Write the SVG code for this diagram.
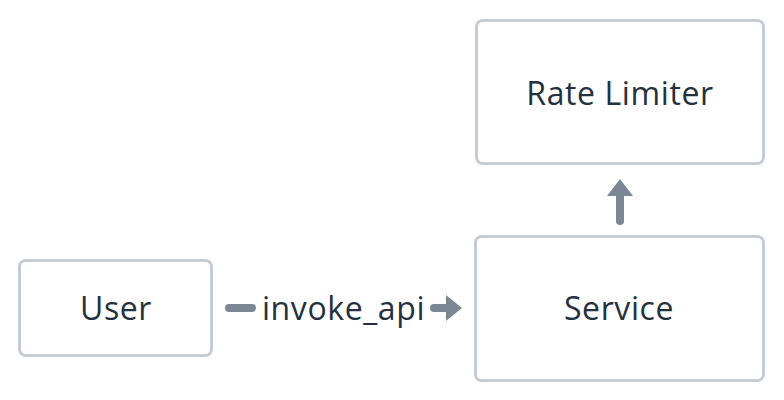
<svg xmlns="http://www.w3.org/2000/svg" width="784" height="400" viewBox="0 0 784 400">
<style>
.node rect{fill:#ffffff;stroke:#c5ccd4;stroke-width:3}
.node text{font-family:"Open Sans","Liberation Sans",sans-serif;font-size:32px;letter-spacing:0.6px;fill:#243140;text-anchor:middle;dominant-baseline:central}
.edge line{stroke:#7b8794;stroke-width:8;stroke-linecap:round}
.edge polygon{fill:#7b8794}
.lbl{font-family:"Open Sans","Liberation Sans",sans-serif;font-size:32px;letter-spacing:0.6px;fill:#243140;text-anchor:middle;dominant-baseline:central}
</style>
<rect width="784" height="400" fill="#ffffff"/>
<g id="connectors" class="edge">
<g id="e-user-service">
<line x1="229" y1="308" x2="252" y2="308"/>
<line x1="434" y1="308" x2="448" y2="308"/>
<polygon points="446,295 462,308 446,321"/>
<text class="lbl" x="343.5" y="307">invoke_api</text>
</g>
<g id="e-service-ratelimiter">
<line x1="620" y1="221" x2="620" y2="194"/>
<polygon points="607,196 620,179 633,196"/>
</g>
</g>
<g id="user" class="node">
<rect x="19.5" y="260.5" width="192" height="95" rx="6"/>
<text x="116" y="307">User</text>
</g>
<g id="service" class="node">
<rect x="475.5" y="236.5" width="288" height="144" rx="6"/>
<text x="619" y="307">Service</text>
</g>
<g id="rate-limiter" class="node">
<rect x="476.5" y="20.5" width="287" height="143" rx="6"/>
<text x="620" y="92">Rate Limiter</text>
</g>
</svg>
